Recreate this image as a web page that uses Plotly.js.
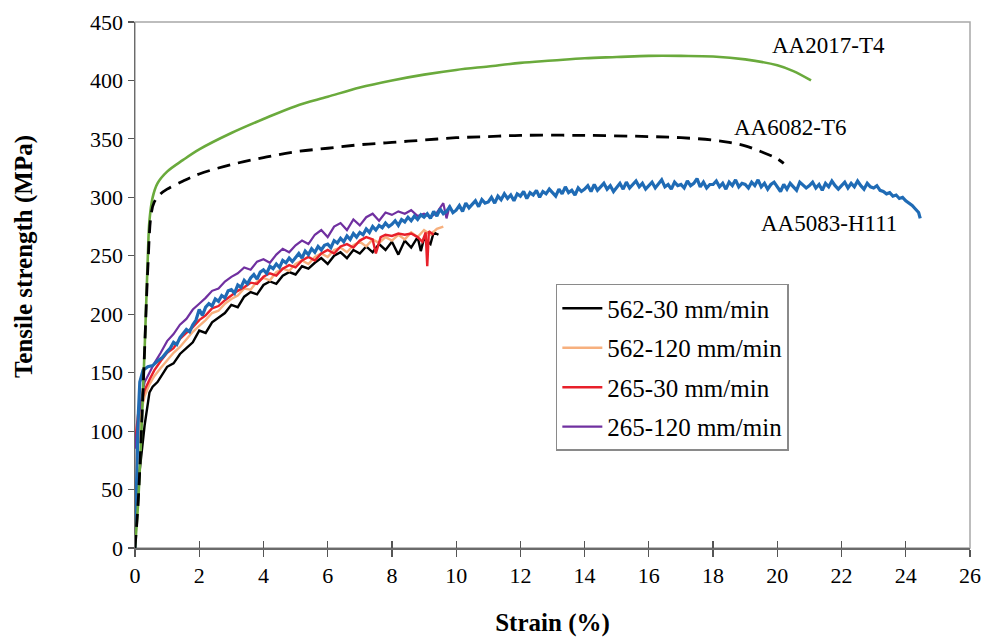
<!DOCTYPE html>
<html>
<head>
<meta charset="utf-8">
<script src="https://cdn.plot.ly/plotly-3.0.1.min.js"></script>
<style>html,body{margin:0;padding:0;background:#fff;}#chart{width:985px;height:637px;}</style>
</head>
<body>
<div id="chart"></div>
<script>
// ---- Data ----
const xTicks = [0,2,4,6,8,10,12,14,16,18,20,22,24,26];
const yTicks = [0,50,100,150,200,250,300,350,400,450];

const aa2017_strain = [0,0.1,0.2,0.3,0.4,0.45,0.55,0.7,1.0,1.5,2,3,4,5,6,7,8,9,10,11,12,13,14,15,16,17,18,19,20,20.5,21.05];
const aa2017_stress = [0,40,100,170,250,280,300,312,322,332,341,355,367,378,386,394,400,405,409,412,415,417,419,420,421,421,420.5,418,413,408,400];

const aa6082_strain = [0,0.1,0.2,0.3,0.4,0.5,0.6,0.8,1,1.5,2,3,4,5,6,7,8,9,10,11,12,14,16,17,18,18.5,19,19.5,20,20.2];
const aa6082_stress = [0,40,100,170,240,285,296,303,307,314,320,328,334,339,342,345,347,349,351,352,353,353,352,351,349,347,344,339,333,329];

const aa5083_strain = [0,0.05,0.1,0.15,0.25,0.4,0.55,0.7,0.85,
 1.0,1.1,1.2,1.3,1.4,1.5,1.6,1.7,1.8,1.9,
 2.0,2.1,2.2,2.3,2.4,2.5,2.6,2.7,2.8,2.9,
 3.0,3.1,3.2,3.3,3.4,3.5,3.6,3.7,3.8,3.9,
 4.0,4.1,4.2,4.3,4.4,4.5,4.6,4.7,4.8,4.9,
 5.0,5.1,5.2,5.3,5.4,5.5,5.6,5.7,5.8,5.9,
 6.0,6.1,6.2,6.3,6.4,6.5,6.6,6.7,6.8,6.9,
 7.0,7.1,7.2,7.3,7.4,7.5,7.6,7.7,7.8,7.9,
 8.0,8.1,8.2,8.3,8.4,8.5,8.6,8.7,8.8,8.9,
 9.0,9.1,9.2,9.3,9.4,9.5,9.6,9.7,9.8,9.9,
 10.0,10.1,10.2,10.3,10.4,10.5,10.6,10.7,10.8,10.9,
 11.0,11.1,11.2,11.3,11.4,11.5,11.6,11.7,11.8,11.9,
 12.0,12.1,12.2,12.3,12.4,12.5,12.6,12.7,12.8,12.9,
 13.0,13.1,13.2,13.3,13.4,13.5,13.6,13.7,13.8,13.9,
 14.0,14.1,14.2,14.3,14.4,14.5,14.6,14.7,14.8,14.9,
 15.0,15.1,15.2,15.3,15.4,15.5,15.6,15.7,15.8,15.9,
 16.0,16.1,16.2,16.3,16.4,16.5,16.6,16.7,16.8,16.9,
 17.0,17.1,17.2,17.3,17.4,17.5,17.6,17.7,17.8,17.9,
 18.0,18.1,18.2,18.3,18.4,18.5,18.6,18.7,18.8,18.9,
 19.0,19.1,19.2,19.3,19.4,19.5,19.6,19.7,19.8,19.9,
 20.0,20.1,20.2,20.3,20.4,20.5,20.6,20.7,20.8,20.9,
 21.0,21.1,21.2,21.3,21.4,21.5,21.6,21.7,21.8,21.9,
 22.0,22.1,22.2,22.3,22.4,22.5,22.6,22.7,22.8,22.9,
 23.0,23.1,23.2,23.3,23.4,23.5,23.6,23.7,23.8,23.9,
 24.0,24.1,24.2,24.3,24.4,24.45];
const aa5083_stress = [0,60,112,142,152,155,156,160,163,
 168,171,176,174,180,183,187,185,191,195,
 204,199,206,209,207,213,211,216,214,220,
 221,218,225,223,229,226,231,234,230,236,
 238,235,241,239,243,240,246,244,248,245,
 249,252,248,254,251,256,253,258,255,259,
 260,257,263,261,265,262,267,264,269,266,
 270,268,273,270,275,272,276,274,278,275,
 277,280,276,281,279,283,280,284,281,285,
 283,286,282,288,284,290,286,288,292,287,
 289,293,288,295,291,294,297,292,298,295,
 296,300,295,301,298,303,299,302,297,303,
 301,305,299,304,302,306,300,305,303,307,
 304,301,307,303,309,304,306,302,308,305,
 307,310,305,311,306,309,312,307,310,305,
 309,312,307,313,308,311,314,309,312,307,
 310,313,308,312,315,309,311,307,313,310,
 311,308,314,310,312,316,309,313,308,311,
 311,314,309,312,307,313,310,315,309,312,
 311,308,313,310,315,309,312,307,311,313,
 309,305,311,307,312,309,306,313,310,308,
 310,313,308,311,306,312,309,314,310,307,
 310,313,308,312,309,314,310,307,312,309,
 308,310,306,305,303,304,301,302,299,300,
 297,295,293,290,287,282];

const s562_30_strain = [0,0.1,0.2,0.3,0.45,0.55,0.7,0.85,1.0,1.2,1.4,1.6,1.8,2.0,2.2,2.4,2.6,2.8,3.0,3.2,3.4,3.6,3.8,4.0,4.2,4.4,4.6,4.8,5.0,5.2,5.4,5.6,5.8,6.0,6.2,6.4,6.6,6.8,7.0,7.2,7.4,7.6,7.8,8.0,8.2,8.4,8.6,8.8,8.9,9.0,9.2,9.3,9.45];
const s562_30_stress = [30,55,80,105,133,138,142,148,155,158,166,171,176,186,184,193,197,201,208,206,215,219,217,225,228,226,233,236,234,241,239,244,248,243,250,253,248,255,252,258,253,260,255,262,251,263,257,266,254,265,260,270,268];

const s562_120_strain = [0,0.1,0.2,0.3,0.45,0.6,0.8,1.0,1.2,1.4,1.6,1.8,2.0,2.2,2.4,2.6,2.8,3.0,3.2,3.4,3.6,3.8,4.0,4.2,4.4,4.6,4.8,5.0,5.2,5.4,5.6,5.8,6.0,6.2,6.4,6.6,6.8,7.0,7.2,7.4,7.6,7.8,8.0,8.2,8.4,8.6,8.8,9.0,9.2,9.4,9.6];
const s562_120_stress = [60,95,118,130,140,147,154,161,167,172,179,185,190,195,201,203,209,213,216,222,221,228,231,229,236,239,237,243,246,243,249,252,249,255,257,253,259,262,258,264,261,266,263,268,264,270,266,272,268,273,275];

const s265_30_strain = [0,0.1,0.2,0.3,0.45,0.6,0.8,1.0,1.2,1.4,1.6,1.8,2.0,2.2,2.4,2.6,2.8,3.0,3.2,3.4,3.6,3.8,4.0,4.2,4.4,4.6,4.8,5.0,5.2,5.4,5.6,5.8,6.0,6.2,6.4,6.6,6.8,7.0,7.2,7.4,7.5,7.65,7.8,8.0,8.2,8.4,8.6,8.8,8.95,9.05,9.1,9.15,9.3];
const s265_30_stress = [90,115,125,135,144,152,160,167,171,179,184,189,195,199,205,207,212,216,220,223,227,226,232,235,233,239,242,240,246,249,246,252,255,252,258,260,257,263,266,264,252,266,268,267,269,268,269,266,262,270,241,271,268];

const s265_120_strain = [0,0.1,0.2,0.3,0.45,0.6,0.8,1.0,1.2,1.4,1.6,1.8,2.0,2.2,2.4,2.6,2.8,3.0,3.2,3.4,3.6,3.8,4.0,4.2,4.4,4.6,4.8,5.0,5.2,5.4,5.6,5.8,6.0,6.2,6.4,6.6,6.8,7.0,7.2,7.4,7.6,7.8,8.0,8.2,8.4,8.6,8.8,9.0,9.2,9.4,9.6,9.7,9.8];
const s265_120_stress = [85,110,128,142,150,158,167,177,183,191,196,204,209,214,220,222,228,232,235,240,238,245,247,244,251,256,253,259,263,260,268,272,266,275,278,272,281,276,283,286,280,287,285,288,286,289,284,286,283,287,295,282,293];

const legendNames = ['562-30 mm/min','562-120 mm/min','265-30 mm/min','265-120 mm/min'];
const baseLabels = ['AA2017-T4','AA6082-T6','AA5083-H111'];
const labelX = [21.6, 20.4, 21.6];
const labelY = [430, 360, 278];

const FONT = '"Liberation Serif", "Times New Roman", serif';

const traces = [
  {x:s562_30_strain, y:s562_30_stress, name:legendNames[0], legendgroup:'a', mode:'lines', line:{color:'#000000', width:2.4}},
  {x:s562_120_strain, y:s562_120_stress, name:legendNames[1], legendgroup:'b', mode:'lines', line:{color:'#F7B07E', width:2.4}},
  {x:s265_30_strain, y:s265_30_stress, name:legendNames[2], legendgroup:'c', mode:'lines', line:{color:'#E8202A', width:2.4}},
  {x:s265_120_strain, y:s265_120_stress, name:legendNames[3], legendgroup:'d', mode:'lines', line:{color:'#7030A0', width:2.2}},
  {x:aa5083_strain, y:aa5083_stress, name:baseLabels[2], showlegend:false, mode:'lines', line:{color:'#1F6BB5', width:3.2}},
  {x:aa2017_strain, y:aa2017_stress, name:baseLabels[0], showlegend:false, mode:'lines', line:{color:'#6AAA3C', width:2.6, shape:'spline'}},
  {x:aa6082_strain, y:aa6082_stress, name:baseLabels[1], showlegend:false, mode:'lines', line:{color:'#000000', width:2.8, dash:'13px,8px', shape:'spline'}},
  {x:[], y:[], xaxis:'x2', showlegend:false, mode:'lines'}
];

const annotations = baseLabels.map((t,i)=>({
  x:labelX[i], y:labelY[i], xref:'x', yref:'y', text:t, showarrow:false,
  font:{family:FONT, size:23, color:'#000'}, xanchor:'center', yanchor:'middle'
}));
annotations.push({
  xref:'paper', yref:'paper', x:-0.133, y:0.555, text:'<b>Tensile strength (MPa)</b>', textangle:-90,
  showarrow:false, font:{family:FONT, size:25, color:'#000'}, xanchor:'center', yanchor:'middle'
});

const layout = {
  width:985, height:637,
  margin:{l:135, r:15, t:22, b:89},
  paper_bgcolor:'#fff', plot_bgcolor:'#fff',
  font:{family:FONT, size:22, color:'#000'},
  showlegend:true,
  legend:{x:0.504, y:0.502, xanchor:'left', yanchor:'top', bordercolor:'#8a8a8a', borderwidth:1.5,
    bgcolor:'#fff', font:{family:FONT, size:25, color:'#000'}, traceorder:'grouped', tracegroupgap:4, itemwidth:40,
    valign:'middle'},
  xaxis:{range:[0,26], tickvals:xTicks, ticktext:xTicks.map(String), showgrid:false, zeroline:false,
    showline:true, linecolor:'#6b6b6b', linewidth:1.5, ticks:'outside', ticklen:7, tickwidth:1.2, tickcolor:'#555',
    tickfont:{family:FONT, size:22, color:'#000'},
    title:{text:'<b>Strain (%)</b>', font:{family:FONT, size:25, color:'#000'}, standoff:26}},
  xaxis2:{range:[0,26], overlaying:'x', anchor:'y', side:'bottom', tickvals:xTicks, showticklabels:false,
    showgrid:false, zeroline:false, showline:false, ticks:'inside', ticklen:7, tickwidth:1.2, tickcolor:'#555'},
  yaxis:{range:[0,450], tickvals:yTicks, ticktext:yTicks.map(String), showgrid:false, zeroline:false,
    showline:true, linecolor:'#6b6b6b', linewidth:1.5, ticks:'outside', ticklen:6, tickwidth:1.2, tickcolor:'#555',
    tickfont:{family:FONT, size:22, color:'#000'}},
  shapes:[{type:'rect', xref:'paper', yref:'paper', x0:0, x1:1, y0:0, y1:1, line:{color:'#a8a8a8', width:1.5}, layer:'below'}],
  annotations:annotations
};

Plotly.newPlot('chart', traces, layout, {staticPlot:true, displayModeBar:false});
</script>
</body>
</html>
